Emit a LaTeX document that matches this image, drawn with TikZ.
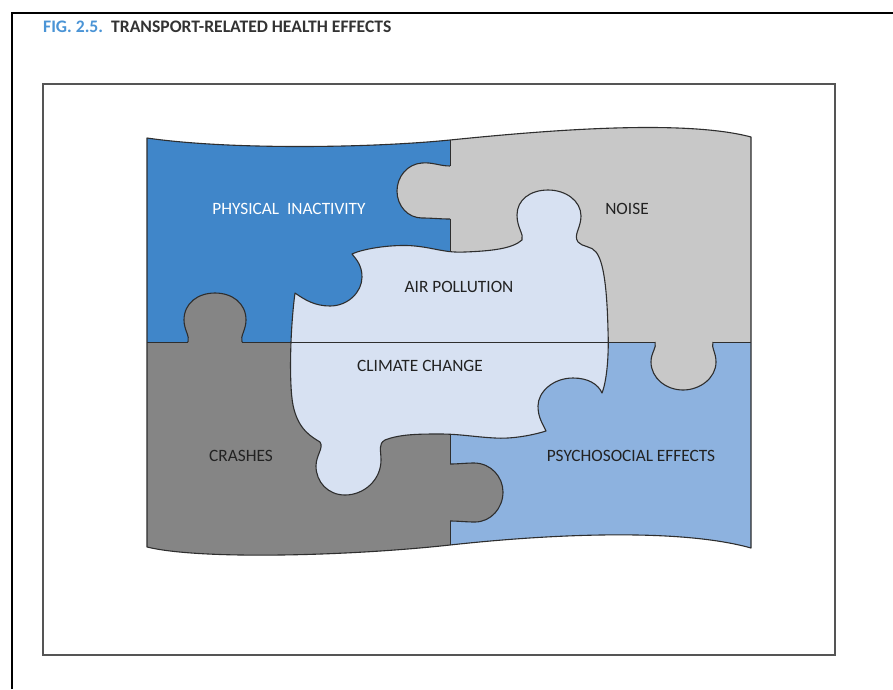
\documentclass[tikz,border=0pt]{standalone}
\usepackage{fontspec}
\setmainfont{Carlito}
\definecolor{inactc}{HTML}{4086C9}
\definecolor{noisec}{HTML}{C8C8C8}
\definecolor{crashc}{HTML}{858585}
\definecolor{psychc}{HTML}{8DB2DF}
\definecolor{centerc}{HTML}{D7E1F2}
\definecolor{edgec}{HTML}{2E2E2E}
\definecolor{labelc}{HTML}{222222}
\definecolor{figblue}{HTML}{4A94D6}
\definecolor{titlec}{HTML}{333333}
\definecolor{boxc}{HTML}{555555}
\begin{document}
\begin{tikzpicture}[x=1pt,y=-1pt,
  outline/.style={draw=edgec,line width=1.1pt,line join=round},
  seam/.style={draw=edgec,line width=0.9pt},
  lbl/.style={font=\fontsize{17.3}{20}\selectfont,text=labelc,inner sep=0pt},
  ttl/.style={font=\fontsize{17.6}{20}\selectfont\bfseries,inner sep=0pt,anchor=base west}]
\useasboundingbox (0,0) rectangle (893,689);
\fill[white] (0,0) rectangle (893,689);

% page frame and figure box
\draw[black,line width=2pt] (12,689) -- (12,13) -- (893,13);
\draw[boxc,line width=1.8pt] (43,84) rectangle (835,655);

% title
\node[ttl,text=figblue] (fig) at (43,32) {FIG. 2.5.};
\node[ttl,text=titlec] (title) at (111,32) {TRANSPORT-RELATED HEALTH EFFECTS};

% four quadrant pieces
\fill[inactc] (147,342) -- (147,138) .. controls (230,150) and (370,148) .. (450,140) -- (450,342) -- cycle;
\fill[noisec] (450,342) -- (450,140) .. controls (530,132) and (680,118) .. (751,137) -- (751,342) -- cycle;
\fill[crashc] (147,342) -- (147,547) .. controls (200,560) and (350,556) .. (450,545) -- (450,342) -- cycle;
\fill[psychc] (450,342) -- (450,545) .. controls (550,534) and (680,528) .. (751,548) -- (751,342) -- cycle;

% knobs of the quadrant pieces
\path[fill=noisec,outline] (450,166) .. controls (440,166) and (432,162) .. (422,163)
  .. controls (407,164) and (397,177) .. (397,191) .. controls (397,206) and (408,218) .. (422,218)
  .. controls (432,218) and (440,219) .. (450,219);
\path[fill=crashc,outline] (188,342) .. controls (190,336) and (184,330) .. (184,320)
  .. controls (184,303) and (198,293) .. (215,293) .. controls (232,293) and (246,303) .. (246,320)
  .. controls (246,330) and (240,336) .. (242,342);
\path[fill=noisec,outline] (655,342) .. controls (657,348) and (651,352) .. (651,362)
  .. controls (651,378) and (666,390) .. (683,390) .. controls (700,390) and (716,378) .. (716,362)
  .. controls (716,352) and (711,348) .. (713,342);
\path[fill=crashc,outline] (450,464) .. controls (458,464) and (466,463) .. (474,463)
  .. controls (491,463) and (503,477) .. (503,492) .. controls (503,508) and (491,522) .. (475,522)
  .. controls (466,522) and (458,521) .. (450,521);

% outer boundary and straight seams
\draw[outline] (147,138) .. controls (230,150) and (370,148) .. (450,140)
  .. controls (530,132) and (680,118) .. (751,137) -- (751,548)
  .. controls (680,528) and (550,534) .. (450,545)
  .. controls (350,556) and (200,560) .. (147,547) -- cycle;
\draw[seam] (450,140) -- (450,166) (450,219) -- (450,262);
\draw[seam] (450,430) -- (450,464) (450,521) -- (450,545);

% central piece
\path[fill=centerc,outline] (352,254)
 .. controls (365,248) and (395,244) .. (415,246)
 .. controls (435,248) and (445,253) .. (465,252)
 .. controls (490,251) and (512,249) .. (522,240)
 .. controls (524,234) and (517,228) .. (517,215)
 .. controls (517,200) and (530,190) .. (548,190)
 .. controls (566,190) and (581,201) .. (581,216)
 .. controls (581,228) and (573,235) .. (578,242)
 .. controls (582,247) and (592,246) .. (596,252)
 .. controls (604,262) and (607,290) .. (608,330)
 .. controls (609,355) and (607,380) .. (602,393)
 .. controls (598,384) and (588,378) .. (573,378)
 .. controls (553,378) and (538,392) .. (538,406)
 .. controls (538,418) and (543,424) .. (546,431)
 .. controls (530,436) and (510,439) .. (495,438)
 .. controls (475,437) and (460,434) .. (440,434)
 .. controls (420,434) and (400,434) .. (385,440)
 .. controls (378,444) and (381,450) .. (381,460)
 .. controls (381,480) and (364,495) .. (345,495)
 .. controls (328,495) and (316,482) .. (316,466)
 .. controls (316,455) and (324,448) .. (320,442)
 .. controls (312,437) and (298,430) .. (293,405)
 .. controls (289,385) and (290,330) .. (295,293)
 .. controls (305,300) and (315,306) .. (330,306)
 .. controls (348,306) and (362,292) .. (362,277)
 .. controls (362,266) and (357,260) .. (352,254) -- cycle;

% horizontal seam across the puzzle
\draw[seam] (147,342) -- (188,342) (242,342) -- (655,342) (713,342) -- (751,342);

% labels
\node[lbl,text=white] (inact) at (289,209) {PHYSICAL\ \ INACTIVITY};
\node[lbl] (noise) at (627,209) {NOISE};
\node[lbl] (air) at (459,287) {AIR POLLUTION};
\node[lbl] (climate) at (420,366) {CLIMATE CHANGE};
\node[lbl] (crash) at (241,456) {CRASHES};
\node[lbl] (psych) at (631,456) {PSYCHOSOCIAL EFFECTS};
\end{tikzpicture}
\end{document}
